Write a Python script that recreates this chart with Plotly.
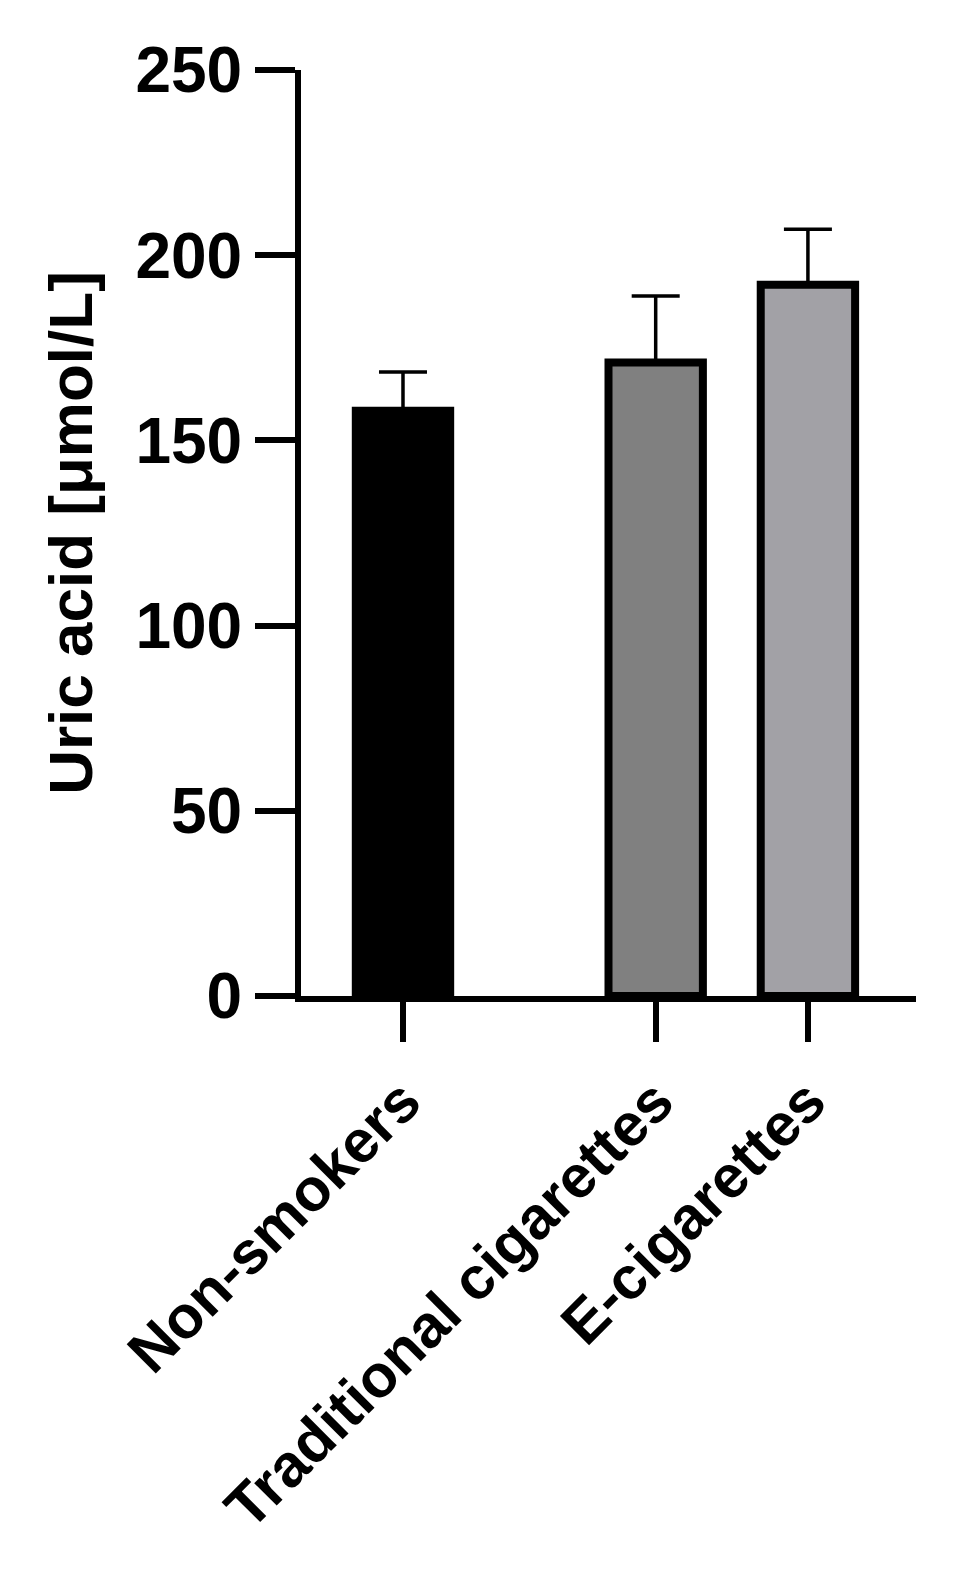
import plotly.graph_objects as go

categories = ["Non-smokers", "Traditional cigarettes", "E-cigarettes"]
positions = [0, 1.66, 2.66]
means = [158, 171, 192]
errors = [10.5, 18, 15]
colors = ["#000000", "#808080", "#a2a1a6"]

fig = go.Figure(go.Bar(
    x=positions, y=means, width=0.62,
    marker=dict(color=colors, line=dict(color="black", width=8)),
    error_y=dict(type="data", array=errors, arrayminus=[0, 0, 0], symmetric=False,
                 color="black", thickness=3.5, width=24),
))
fig.update_layout(
    width=960, height=1584, plot_bgcolor="white", paper_bgcolor="white",
    margin=dict(l=293, r=52, t=62, b=596), showlegend=False,
    font=dict(family="Liberation Sans, Arial", color="black"),
)
fig.update_xaxes(range=[-0.67, 3.37], tickvals=positions,
                 ticktext=[f"<b>{c}</b>" for c in categories], tickangle=-45,
                 ticks="outside", ticklen=40, tickwidth=6, tickcolor="black",
                 showline=True, linewidth=6, linecolor="black", showgrid=False,
                 zeroline=False, tickfont=dict(size=60))
fig.update_yaxes(range=[0, 250], tickvals=[0, 50, 100, 150, 200, 250],
                 ticktext=[f"<b>{v}</b>" for v in [0, 50, 100, 150, 200, 250]],
                 ticks="outside", ticklen=40, tickwidth=6, tickcolor="black",
                 showline=True, linewidth=6, linecolor="black", showgrid=False,
                 zeroline=False, tickfont=dict(size=64),
                 title=dict(text="<b>Uric acid [μmol/L]</b>", font=dict(size=62), standoff=25))
fig.write_html("out.html")
